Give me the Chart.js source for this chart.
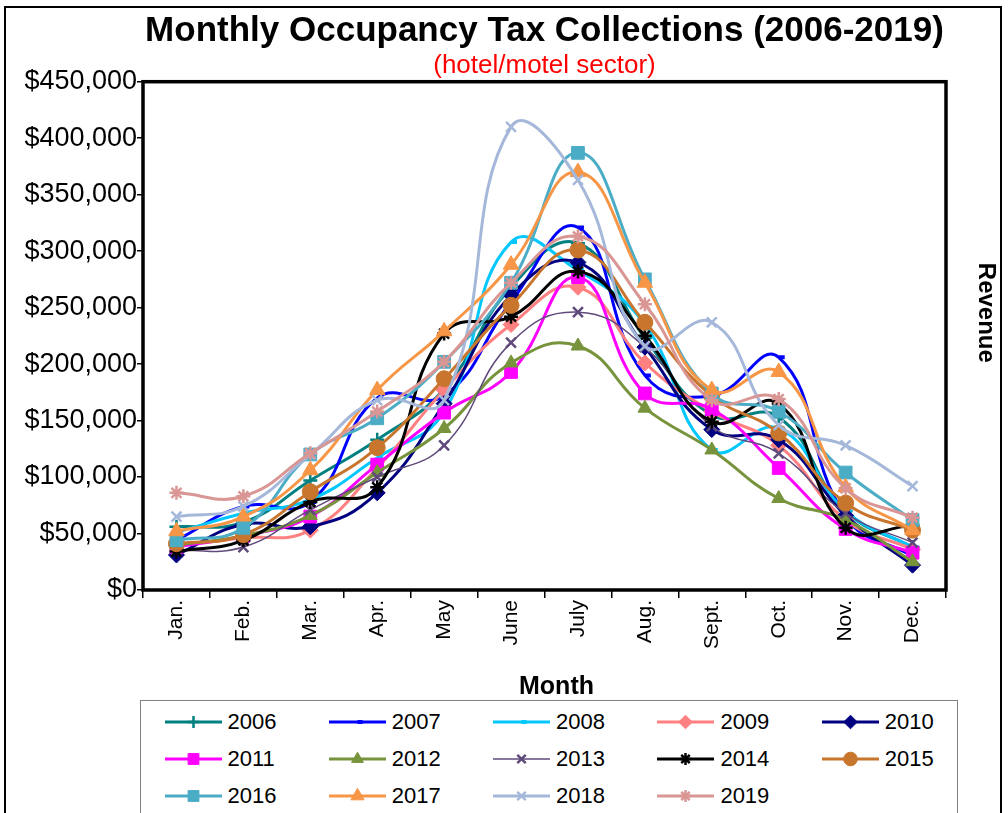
<!DOCTYPE html>
<html>
<head>
<meta charset="utf-8">
<title>Monthly Occupancy Tax Collections (2006-2019)</title>
<script src="https://cdn.jsdelivr.net/npm/chart.js@4.4.0/dist/chart.umd.min.js"></script>
<style>
    html, body { margin: 0; padding: 0; background: #fff; overflow: hidden; }
    #wrap { position: relative; width: 1008px; height: 813px; overflow: hidden; }
    #frame { position: absolute; left: 4px; top: 6px; width: 998px; height: 900px; border: 2px solid #000; box-sizing: border-box; }
    #chart { position: absolute; left: 0; top: 0; }
    #legend { position: absolute; left: 140px; top: 700px; width: 818px; height: 140px; border: 1.5px solid #808080;
              box-sizing: border-box; background: #fff; font-family: "Liberation Sans", Arial, sans-serif; font-size: 22px; color: #000; }
    .item { position: absolute; height: 28px; display: flex; align-items: center; }
    .item canvas { display: block; margin-right: 6px; }
</style>
</head>
<body>
<div id="wrap">
    <div id="frame"></div>
    <canvas id="chart" width="1008" height="813"></canvas>
    <div id="legend"></div>
</div>
<script>
// Month labels and one series per year
const months = ['Jan.', 'Feb.', 'Mar.', 'Apr.', 'May', 'June', 'July', 'Aug.', 'Sept.', 'Oct.', 'Nov.', 'Dec.'];
const years = ['2006', '2007', '2008', '2009', '2010', '2011', '2012', '2013', '2014', '2015', '2016', '2017', '2018', '2019'];

const y2006 = [56000, 60000, 97000, 133000, 178000, 268000, 307000, 223000, 155000, 153000, 70000, 38000];
const y2007 = [44000, 74000, 78000, 170000, 172000, 255000, 321000, 190000, 172000, 206000, 65000, 30000];
const y2008 = [51000, 68000, 80000, 117000, 158000, 308000, 283000, 235000, 124000, 143000, 70000, 38000];
const y2009 = [40000, 46000, 53000, 108000, 177000, 235000, 268000, 201000, 158000, 128000, 62000, 36000];
const y2010 = [31000, 58000, 56000, 86000, 165000, 261000, 290000, 215000, 142000, 133000, 66000, 22000];
const y2011 = [38000, 48000, 65000, 111000, 157000, 193000, 277000, 174000, 160000, 108000, 54000, 33000];
const y2012 = [40000, 48000, 66000, 104000, 143000, 201000, 216000, 161000, 124000, 81000, 62000, 25000];
const y2013 = [35000, 38000, 71000, 100000, 128000, 219000, 246000, 215000, 145000, 121000, 68000, 42000];
const y2014 = [34000, 44000, 78000, 91000, 227000, 242000, 282000, 225000, 149000, 165000, 55000, 57000];
const y2015 = [41000, 49000, 87000, 126000, 187000, 252000, 301000, 237000, 172000, 139000, 77000, 53000];
const y2016 = [44000, 55000, 120000, 152000, 202000, 272000, 387000, 275000, 174000, 158000, 104000, 62000];
const y2017 = [52000, 65000, 106000, 177000, 229000, 288000, 370000, 272000, 177000, 193000, 91000, 53000];
const y2018 = [65000, 74000, 120000, 168000, 168000, 410000, 363000, 216000, 237000, 146000, 128000, 92000];
const y2019 = [86000, 83000, 121000, 158000, 202000, 272000, 313000, 253000, 168000, 169000, 90000, 64000];

const series = [y2006, y2007, y2008, y2009, y2010, y2011, y2012, y2013, y2014, y2015, y2016, y2017, y2018, y2019];

// Excel-like styling per year
const colors = ['#008080', '#0000ff', '#00c8ff', '#ff8080', '#000080', '#ff00ff', '#77933c',
                '#604a7b', '#000000', '#c8762e', '#4bacc6', '#f79646', '#a5b8da', '#d99694'];
const markers = ['cross', 'dash', 'dash', 'rectRot', 'rectRot', 'rect', 'triangle',
                 'crossRot', 'star', 'circle', 'rect', 'triangle', 'crossRot', 'star'];
const markerSizes = [7, 6, 6, 8, 8, 9, 8, 7, 7, 8, 9, 9, 7, 7];
const markerBorders = [2.5, 4, 4, 1, 1, 1, 1, 2.5, 2.5, 1, 1, 1, 2.5, 2.5];
const lineWidths = [3, 3, 3, 3, 3, 3, 3, 1.5, 3, 3, 3, 3, 3, 3];

const FONT = '"Liberation Sans", Arial, sans-serif';
Chart.defaults.font.family = FONT;
Chart.defaults.color = '#000';

/**
 * Plot area border plus the two axis captions
 */
const plotFrame = {
    id: 'plotFrame',
    afterDatasetsDraw(chart) {
        const {ctx, chartArea: a} = chart;
        ctx.save();
        ctx.strokeStyle = '#000';
        ctx.lineWidth = 3.5;
        ctx.strokeRect(a.left, a.top, a.right - a.left, a.bottom - a.top);

        ctx.fillStyle = '#000';
        ctx.textAlign = 'center';
        ctx.textBaseline = 'middle';
        ctx.font = 'bold 25px ' + FONT;
        ctx.fillText('Month', (a.left + a.right) / 2 + 12, a.bottom + 97);

        ctx.translate(a.right + 40, (a.top + a.bottom) / 2 - 23);
        ctx.rotate(Math.PI / 2);
        ctx.font = 'bold 24px ' + FONT;
        ctx.fillText('Revenue', 0, 0);
        ctx.restore();
    }
};

const datasets = years.map((yr, i) => ({
    label: yr,
    data: series[i],
    borderColor: colors[i],
    backgroundColor: colors[i],
    borderWidth: lineWidths[i],
    tension: 0.45,
    fill: false,
    pointStyle: markers[i],
    pointRadius: markerSizes[i],
    pointBorderWidth: markerBorders[i],
    pointBackgroundColor: colors[i],
    pointBorderColor: colors[i],
    order: years.length - i
}));

new Chart(document.getElementById('chart'), {
    type: 'line',
    data: { labels: months, datasets: datasets },
    options: {
        responsive: false,
        animation: false,
        devicePixelRatio: 1,
        layout: { padding: { left: 0, right: 62, top: 0, bottom: 111 } },
        plugins: {
            legend: { display: false },
            tooltip: { enabled: false },
            title: {
                display: true,
                fullSize: false,
                text: 'Monthly Occupancy Tax Collections (2006-2019)',
                color: '#000',
                font: { size: 35, weight: 'bold', lineHeight: 1.1 },
                padding: { top: 12, bottom: 0 }
            },
            subtitle: {
                display: true,
                fullSize: false,
                text: '(hotel/motel sector)',
                color: '#ff0000',
                font: { size: 26, lineHeight: 1.2 },
                padding: { top: 0, bottom: 0 }
            }
        },
        scales: {
            x: {
                offset: true,
                ticks: { autoSkip: false, maxRotation: 90, minRotation: 90, padding: 2, font: { size: 21 }, color: '#000' },
                grid: { offset: true, drawOnChartArea: false, tickLength: 8, color: '#000', lineWidth: 1.5 },
                border: { display: false },
                afterFit: scale => { scale.height = 112; }
            },
            y: {
                min: 0,
                max: 450000,
                ticks: {
                    stepSize: 50000,
                    padding: 0,
                    font: { size: 27 },
                    color: '#000',
                    callback: v => '$' + v.toLocaleString('en-US')
                },
                grid: { drawOnChartArea: false, tickLength: 6, color: '#000', lineWidth: 1.5 },
                border: { display: false },
                afterFit: scale => { scale.width = 143; }
            }
        }
    },
    plugins: [plotFrame]
});

// HTML legend: 5 columns, line sample with marker then the year
const legendEl = document.getElementById('legend');
years.forEach((yr, i) => {
    const col = i % 5;
    const row = Math.floor(i / 5);
    const item = document.createElement('div');
    item.className = 'item';
    item.style.left = (23.5 + col * 164.3) + 'px';
    item.style.top = (722 + row * 37 - 700 - 1.5 - 14) + 'px';

    const cv = document.createElement('canvas');
    cv.width = 57;
    cv.height = 24;
    const ctx = cv.getContext('2d');
    ctx.strokeStyle = colors[i];
    ctx.fillStyle = colors[i];
    ctx.lineWidth = lineWidths[i];
    ctx.beginPath();
    ctx.moveTo(0, 12);
    ctx.lineTo(57, 12);
    ctx.stroke();
    if (Chart.helpers && Chart.helpers.drawPoint) {
        ctx.lineWidth = markerBorders[i];
        Chart.helpers.drawPoint(ctx, {
            pointStyle: markers[i],
            radius: markerSizes[i] * 0.85,
            borderWidth: markerBorders[i],
            rotation: 0
        }, 28.5, 12);
    }

    const txt = document.createElement('span');
    txt.textContent = yr;
    item.appendChild(cv);
    item.appendChild(txt);
    legendEl.appendChild(item);
});
</script>
</body>
</html>
